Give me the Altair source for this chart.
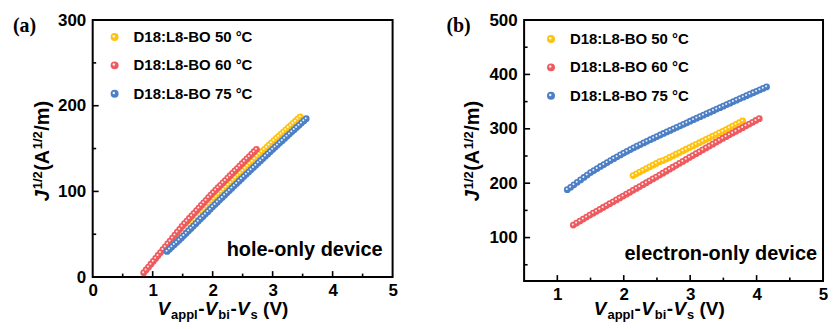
import altair as alt
import pandas as pd

# ---------------- data ----------------
# panel (a): hole-only device
a60_v = [0.85, 0.89, 0.93, 0.97, 1.01, 1.05, 1.09, 1.13, 1.17, 1.21, 1.25, 1.29, 1.33, 1.37, 1.41, 1.45,
         1.49, 1.53, 1.57, 1.61, 1.65, 1.69, 1.73, 1.77, 1.81, 1.85, 1.89, 1.93, 1.97, 2.01, 2.05, 2.09,
         2.13, 2.17, 2.21, 2.25, 2.29, 2.33, 2.37, 2.41, 2.45, 2.49, 2.53, 2.57, 2.61, 2.65, 2.69, 2.73]
a60_j = [5.0, 8.3, 11.6, 15.0, 18.4, 21.8, 25.2, 28.6, 32.0, 35.4, 38.7, 42.1, 45.5, 49.0, 52.4, 55.8,
         59.2, 62.3, 65.3, 68.4, 71.4, 74.4, 77.5, 80.5, 83.6, 86.6, 89.6, 92.7, 95.7, 98.7, 101.5, 104.3,
         107.1, 109.9, 112.7, 115.5, 118.3, 121.1, 123.9, 126.7, 129.5, 132.3, 135.1, 137.9, 140.7, 143.5, 146.3, 149.1]

a75_v = [1.24, 1.28, 1.32, 1.36, 1.40, 1.44, 1.48, 1.52, 1.56, 1.60, 1.64, 1.68, 1.72, 1.76, 1.80, 1.84,
         1.88, 1.92, 1.96, 2.00, 2.04, 2.08, 2.12, 2.16, 2.20, 2.24, 2.28, 2.32, 2.36, 2.40, 2.44, 2.48,
         2.52, 2.56, 2.60, 2.64, 2.68, 2.72, 2.76, 2.80, 2.84, 2.88, 2.92, 2.96, 3.00, 3.04, 3.08, 3.12,
         3.16, 3.20, 3.24, 3.28, 3.32, 3.36, 3.40, 3.44, 3.48, 3.52, 3.56]
a75_j = [30.0, 32.6, 35.2, 37.8, 40.4, 43.1, 45.7, 48.4, 51.2, 54.0, 56.8, 59.6, 62.4, 65.2, 68.0, 70.8,
         73.6, 76.4, 79.2, 82.0, 84.7, 87.4, 90.2, 92.9, 95.6, 98.3, 101.0, 103.8, 106.5, 109.2, 111.9, 114.6,
         117.3, 120.0, 122.6, 125.2, 127.9, 130.5, 133.2, 135.8, 138.4, 141.1, 143.7, 146.4, 149.0, 151.6, 154.1, 156.7,
         159.2, 161.8, 164.4, 166.9, 169.5, 172.0, 174.6, 177.2, 179.7, 182.3, 184.8]

a50_v = [1.22, 1.26, 1.30, 1.34, 1.38, 1.42, 1.46, 1.50, 1.54, 1.58, 1.62, 1.66, 1.70, 1.74, 1.78, 1.82,
         1.86, 1.90, 1.94, 1.98, 2.02, 2.06, 2.10, 2.14, 2.18, 2.22, 2.26, 2.30, 2.34, 2.38, 2.42, 2.46,
         2.50, 2.54, 2.58, 2.62, 2.66, 2.70, 2.74, 2.78, 2.82, 2.86, 2.90, 2.94, 2.98, 3.02, 3.06, 3.10,
         3.14, 3.18, 3.22, 3.26, 3.30, 3.34, 3.38, 3.42, 3.46]
a50_j = [31.0, 34.0, 37.0, 40.0, 43.0, 46.0, 49.0, 52.0, 55.0, 58.1, 61.1, 64.2, 67.2, 70.2, 73.3, 76.3,
         79.4, 82.4, 85.4, 88.5, 91.4, 94.1, 96.8, 99.5, 102.2, 105.0, 107.7, 110.4, 113.1, 115.8, 118.6, 121.3,
         124.0, 126.8, 129.6, 132.4, 135.2, 138.0, 140.8, 143.6, 146.3, 148.9, 151.5, 154.1, 156.7, 159.3, 161.8, 164.3,
         166.8, 169.3, 171.9, 174.4, 176.9, 179.4, 181.9, 184.5, 187.0]

# panel (b): electron-only device
b75_v = [1.15, 1.20, 1.25, 1.30, 1.35, 1.40, 1.45, 1.50, 1.55, 1.60, 1.65, 1.70, 1.75, 1.80, 1.85, 1.90,
         1.95, 2.00, 2.05, 2.10, 2.15, 2.20, 2.25, 2.30, 2.35, 2.40, 2.45, 2.50, 2.55, 2.60, 2.65, 2.70,
         2.75, 2.80, 2.85, 2.90, 2.95, 3.00, 3.05, 3.10, 3.15, 3.20, 3.25, 3.30, 3.35, 3.40, 3.45, 3.50,
         3.55, 3.60, 3.65, 3.70, 3.75, 3.80, 3.85, 3.90, 3.95, 4.00, 4.05, 4.10, 4.15]
b75_j = [188.0, 192.5, 197.0, 201.5, 206.0, 210.5, 215.0, 219.5, 223.3, 227.0, 230.7, 234.3, 237.9, 241.5, 245.0, 248.5,
         252.0, 255.5, 258.7, 261.9, 265.0, 268.1, 271.1, 274.1, 277.0, 279.9, 282.8, 285.7, 288.6, 291.4, 294.2, 297.1,
         299.9, 302.7, 305.5, 308.3, 311.1, 313.9, 316.7, 319.5, 322.3, 325.1, 327.9, 330.6, 333.4, 336.2, 338.9, 341.7,
         344.5, 347.2, 350.0, 352.7, 355.5, 358.2, 360.9, 363.6, 366.3, 369.0, 371.7, 374.3, 377.0]

b60_v = [1.24, 1.29, 1.34, 1.39, 1.44, 1.49, 1.54, 1.59, 1.64, 1.69, 1.74, 1.79, 1.84, 1.89, 1.94, 1.99,
         2.04, 2.09, 2.14, 2.19, 2.24, 2.29, 2.34, 2.39, 2.44, 2.49, 2.54, 2.59, 2.64, 2.69, 2.74, 2.79,
         2.84, 2.89, 2.94, 2.99, 3.04, 3.09, 3.14, 3.19, 3.24, 3.29, 3.34, 3.39, 3.44, 3.49, 3.54, 3.59,
         3.64, 3.69, 3.74, 3.79, 3.84, 3.89, 3.94, 3.99, 4.04]
b60_j = [123.0, 126.7, 130.3, 134.0, 137.6, 141.3, 144.8, 148.3, 151.8, 155.3, 158.8, 162.3, 165.8, 169.3, 172.8, 176.3,
         179.8, 183.3, 186.8, 190.3, 193.8, 197.3, 200.8, 204.3, 207.8, 211.3, 214.9, 218.5, 222.1, 225.7, 229.3, 232.9,
         236.5, 240.1, 243.7, 247.3, 250.8, 254.3, 257.8, 261.3, 264.8, 268.3, 271.8, 275.3, 278.8, 282.3, 285.6, 288.9,
         292.2, 295.5, 298.8, 302.1, 305.4, 308.7, 312.0, 315.3, 318.6]

b50_v = [2.14, 2.19, 2.24, 2.29, 2.34, 2.39, 2.44, 2.49, 2.54, 2.59, 2.64, 2.69, 2.74, 2.79, 2.84, 2.89,
         2.94, 2.99, 3.04, 3.09, 3.14, 3.19, 3.24, 3.29, 3.34, 3.39, 3.44, 3.49, 3.54, 3.59, 3.64, 3.69,
         3.74, 3.79]
b50_j = [214.0, 217.2, 220.4, 223.6, 226.8, 230.0, 233.2, 236.4, 239.5, 241.5, 244.4, 247.4, 250.4, 253.4, 256.4, 259.4,
         262.4, 265.4, 268.4, 271.4, 274.4, 277.4, 280.4, 283.4, 286.4, 289.4, 292.4, 295.4, 298.6, 301.7, 304.9, 308.0,
         311.2, 314.4]

series_labels = ["D18:L8-BO 50 °C", "D18:L8-BO 60 °C", "D18:L8-BO 75 °C"]
series_colors = ["#FFC20E", "#EF5A5E", "#4C7FC6"]

a_xticks = [0, 1, 2, 3, 4, 5]
a_yticks = [0, 100, 200, 300]
b_xticks = [1, 2, 3, 4, 5]
b_yticks = [100, 200, 300, 400, 500]
a_xminor = [0.5, 1.5, 2.5, 3.5, 4.5]
a_yminor = [50, 150, 250]
b_xminor = [1.5, 2.5, 3.5, 4.5]
b_yminor = [50, 150, 250, 350, 450]

FONT = "Liberation Sans"
one = pd.DataFrame({"k": [0]})


def txt(s, x, y, size, angle=0, align="left", baseline="alphabetic", italic=False,
        font=FONT, weight="bold"):
    return alt.Chart(one).mark_text(
        text=s, fontSize=size, font=font, fontWeight=weight,
        fontStyle="italic" if italic else "normal",
        align=align, baseline=baseline, angle=angle, color="black"
    ).encode(x=alt.value(x), y=alt.value(y))


def panel(series, xdom, ydom, W, H, xticks, yticks, xminor, yminor,
          tag, device, x_title_start, x_title_gap, y_title_x, legend_xy, note_dx, note_y):
    xs = alt.Scale(domain=xdom, nice=False, zero=False)
    ys = alt.Scale(domain=ydom, nice=False, zero=False)
    xaxis = alt.Axis(values=xticks, title=None, ticks=False, domain=False, grid=False,
                     labelFlush=False, labelOverlap=False, labelPadding=5, format="d")
    yaxis = alt.Axis(values=yticks, title=None, ticks=False, domain=False, grid=False,
                     labelFlush=False, labelOverlap=False, labelPadding=7, format="d")
    layers = []
    # inward ticks
    for vals, ln in ((xticks, 6), (xminor, 3.5)):
        d = pd.DataFrame({"v": [v for v in vals if xdom[0] < v < xdom[1]]})
        layers.append(alt.Chart(d).mark_rule(color="black", strokeWidth=1.6).encode(
            x=alt.X("v:Q", scale=xs, axis=xaxis), y=alt.value(H), y2=alt.value(H - ln)))
    for vals, ln in ((yticks, 6), (yminor, 3.5)):
        d = pd.DataFrame({"v": [v for v in vals if ydom[0] < v < ydom[1]]})
        layers.append(alt.Chart(d).mark_rule(color="black", strokeWidth=1.6).encode(
            y=alt.Y("v:Q", scale=ys, axis=yaxis), x=alt.value(0), x2=alt.value(ln)))
    # data series
    for (vv, jj), col in zip(series, series_colors):
        d = pd.DataFrame({"V": vv, "J": jj})
        enc = dict(x=alt.X("V:Q", scale=xs, axis=xaxis), y=alt.Y("J:Q", scale=ys, axis=yaxis))
        layers.append(alt.Chart(d).mark_circle(size=46, color=col, opacity=1).encode(**enc))
        layers.append(alt.Chart(d).mark_circle(size=4, color="white", opacity=0.9,
                                               xOffset=-0.5, yOffset=-0.6).encode(**enc))
    # legend
    for i, (lab, col) in enumerate(zip(series_labels, series_colors)):
        yy = legend_xy[1] + i * 28.5
        layers.append(alt.Chart(one).mark_circle(size=64, color=col, opacity=1).encode(
            x=alt.value(legend_xy[0]), y=alt.value(yy)))
        layers.append(alt.Chart(one).mark_circle(size=6, color="white", opacity=0.9).encode(
            x=alt.value(legend_xy[0] - 0.8), y=alt.value(yy - 0.8)))
        layers.append(txt(lab, legend_xy[0] + 19, yy, 15, baseline="middle"))
    # device note
    layers.append(txt(device, W + note_dx, note_y, 20, align="right"))
    # panel tag
    layers.append(txt(tag, tag_dx, 12, 20, font="Liberation Serif"))
    # x title: V_appl - V_bi - V_s (V)
    yb = H + x_title_gap
    pieces = [("V", 19, True, 0), ("appl", 13, False, 4.2), ("-", 19, False, 0),
              ("V", 19, True, 0), ("bi", 13, False, 4.2), ("-", 19, False, 0),
              ("V", 19, True, 0), ("s", 13, False, 4.2), ("(V)", 19, False, 0)]
    widths = [13.67, 27.2, 6.6, 13.67, 12.1, 6.6, 13.67, 12.5, 0]
    cx = x_title_start
    for (s, sz, it, dy), w in zip(pieces, widths):
        layers.append(txt(s, cx, yb + dy, sz, italic=it))
        cx += w
    # y title: J^{1/2}(A^{1/2}/m), rotated
    ypieces = [("J", 20, True, 0), ("1/2", 13, False, -6.5), ("(A", 20, False, 0),
               ("1/2", 13, False, -6.5), ("/m)", 20, False, 0)]
    ywidths = [12.1, 18.6, 21.6, 18.6, 0]
    cy = 182
    for (s, sz, it, dx), w in zip(ypieces, ywidths):
        layers.append(txt(s, y_title_x + dx, cy, sz, angle=270, italic=it))
        cy -= w
    return alt.layer(*layers).properties(width=W, height=H)


tag_dx = -80
pa = panel([(a50_v, a50_j), (a60_v, a60_j), (a75_v, a75_j)], [0, 5], [0, 300], 301, 258,
           a_xticks, a_yticks, a_xminor, a_yminor, "(a)", "hole-only device",
           65, 38, -44, (22, 17), -10, 237)
tag_dx = -78
pb = panel([(b50_v, b50_j), (b60_v, b60_j), (b75_v, b75_j)], [0.5, 5], [20, 500], 300, 262,
           b_xticks, b_yticks, b_xminor, b_yminor, "(b)", "electron-only device",
           70, 34, -45, (27, 19), -6, 241)

chart = alt.hconcat(pa, pb, spacing=47).properties(
    padding={"left": 4, "top": 1.5, "right": 0, "bottom": 0},
    background="white",
).configure_view(stroke="black", strokeWidth=2).configure_axis(
    labelFont=FONT, labelFontWeight="bold", labelFontSize=17, labelColor="black"
)

chart.save("out.html", embed_options={"renderer": "svg", "actions": False})
